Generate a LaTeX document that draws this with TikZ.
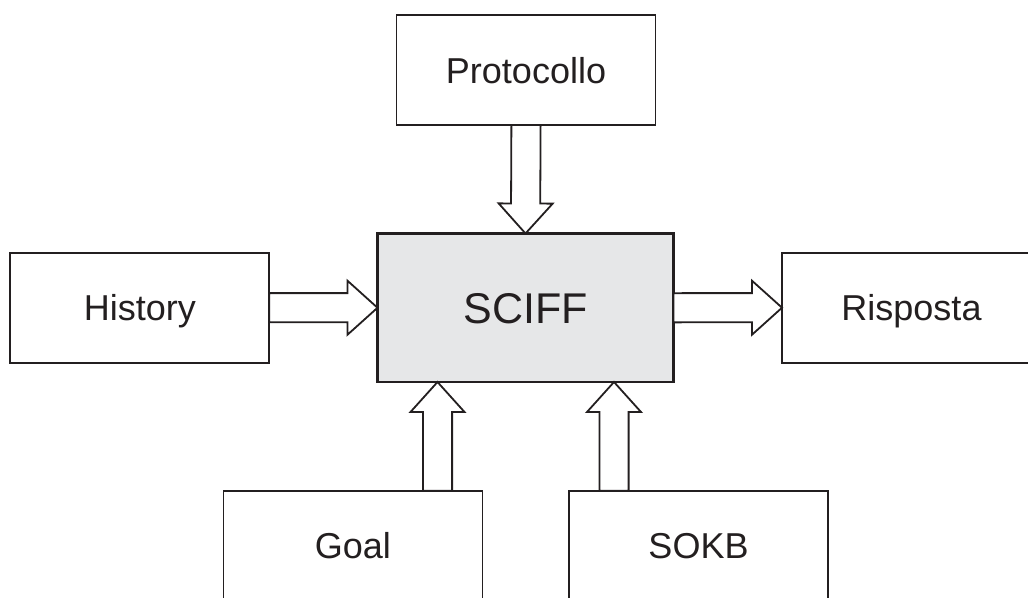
\documentclass[tikz,border=0pt]{standalone}
\usepackage{fontspec}
\setmainfont{Liberation Sans}
\usetikzlibrary{calc}
\definecolor{ink}{HTML}{231F20}
\definecolor{core}{HTML}{E6E7E8}

% hollow block arrow from #1 to #2 (shaft 29pt wide, head 54pt wide, 30pt long)
\newcommand\hollowarrow[2]{%
  \coordinate (ha-s) at (#1);
  \coordinate (ha-e) at (#2);
  \coordinate (ha-h) at ($(ha-e)!30pt!(ha-s)$);
  \draw[arrowline]
    ($(ha-s)!14.6pt!90:(ha-e)$) -- ($(ha-h)!14.6pt!90:(ha-e)$)
    -- ($(ha-h)!27pt!90:(ha-e)$) -- (ha-e)
    -- ($(ha-h)!27pt!-90:(ha-e)$) -- ($(ha-h)!14.6pt!-90:(ha-e)$)
    -- ($(ha-s)!14.6pt!-90:(ha-e)$) -- cycle;
}

\tikzset{
  block/.style={draw=ink, line width=1.8pt, fill=white, outer sep=0pt,
    minimum width=259pt, minimum height=110pt, inner sep=0pt,
    text=ink, font=\fontsize{36}{40}\selectfont,
    text height=26pt, text depth=0pt},
  engine/.style={block, fill=core, line width=2.4pt,
    minimum width=296pt, minimum height=148.5pt,
    font=\fontsize{43}{48}\selectfont, text height=31pt},
  arrowline/.style={draw=ink, line width=1.8pt, fill=white, line join=miter}
}

\begin{document}
\begin{tikzpicture}[x=1pt, y=1pt]
  \useasboundingbox (0,0) rectangle (1028,-597);
  \clip (0,0) rectangle (1028,-597);

  % boxes
  \node[engine] (sciff) at (525.5,-307.75) {SCIFF};
  \node[block] (proto) at (526,-70) {Protocollo};
  \node[block] (hist) at (139.8,-307.7) {History};
  \node[block] (risp) at (911.5,-307.7) {Risposta};
  \node[block] (goal) at (352.9,-545.7) {Goal};
  \node[block] (sokb) at (698.5,-545.7) {SOKB};

  % entry points on the lower side of the engine
  \coordinate (gin) at ($(sciff.south west)+(60,0)$);
  \coordinate (kin) at ($(sciff.south east)+(-59.5,0)$);
  \coordinate (gout) at (goal.north -| gin);
  \coordinate (kout) at (sokb.north -| kin);

  % flows
  \hollowarrow{proto.south}{sciff.north}
  \hollowarrow{hist.east}{sciff.west}
  \hollowarrow{sciff.east}{risp.west}
  \hollowarrow{gout}{gin}
  \hollowarrow{kout}{kin}
\end{tikzpicture}
\end{document}
